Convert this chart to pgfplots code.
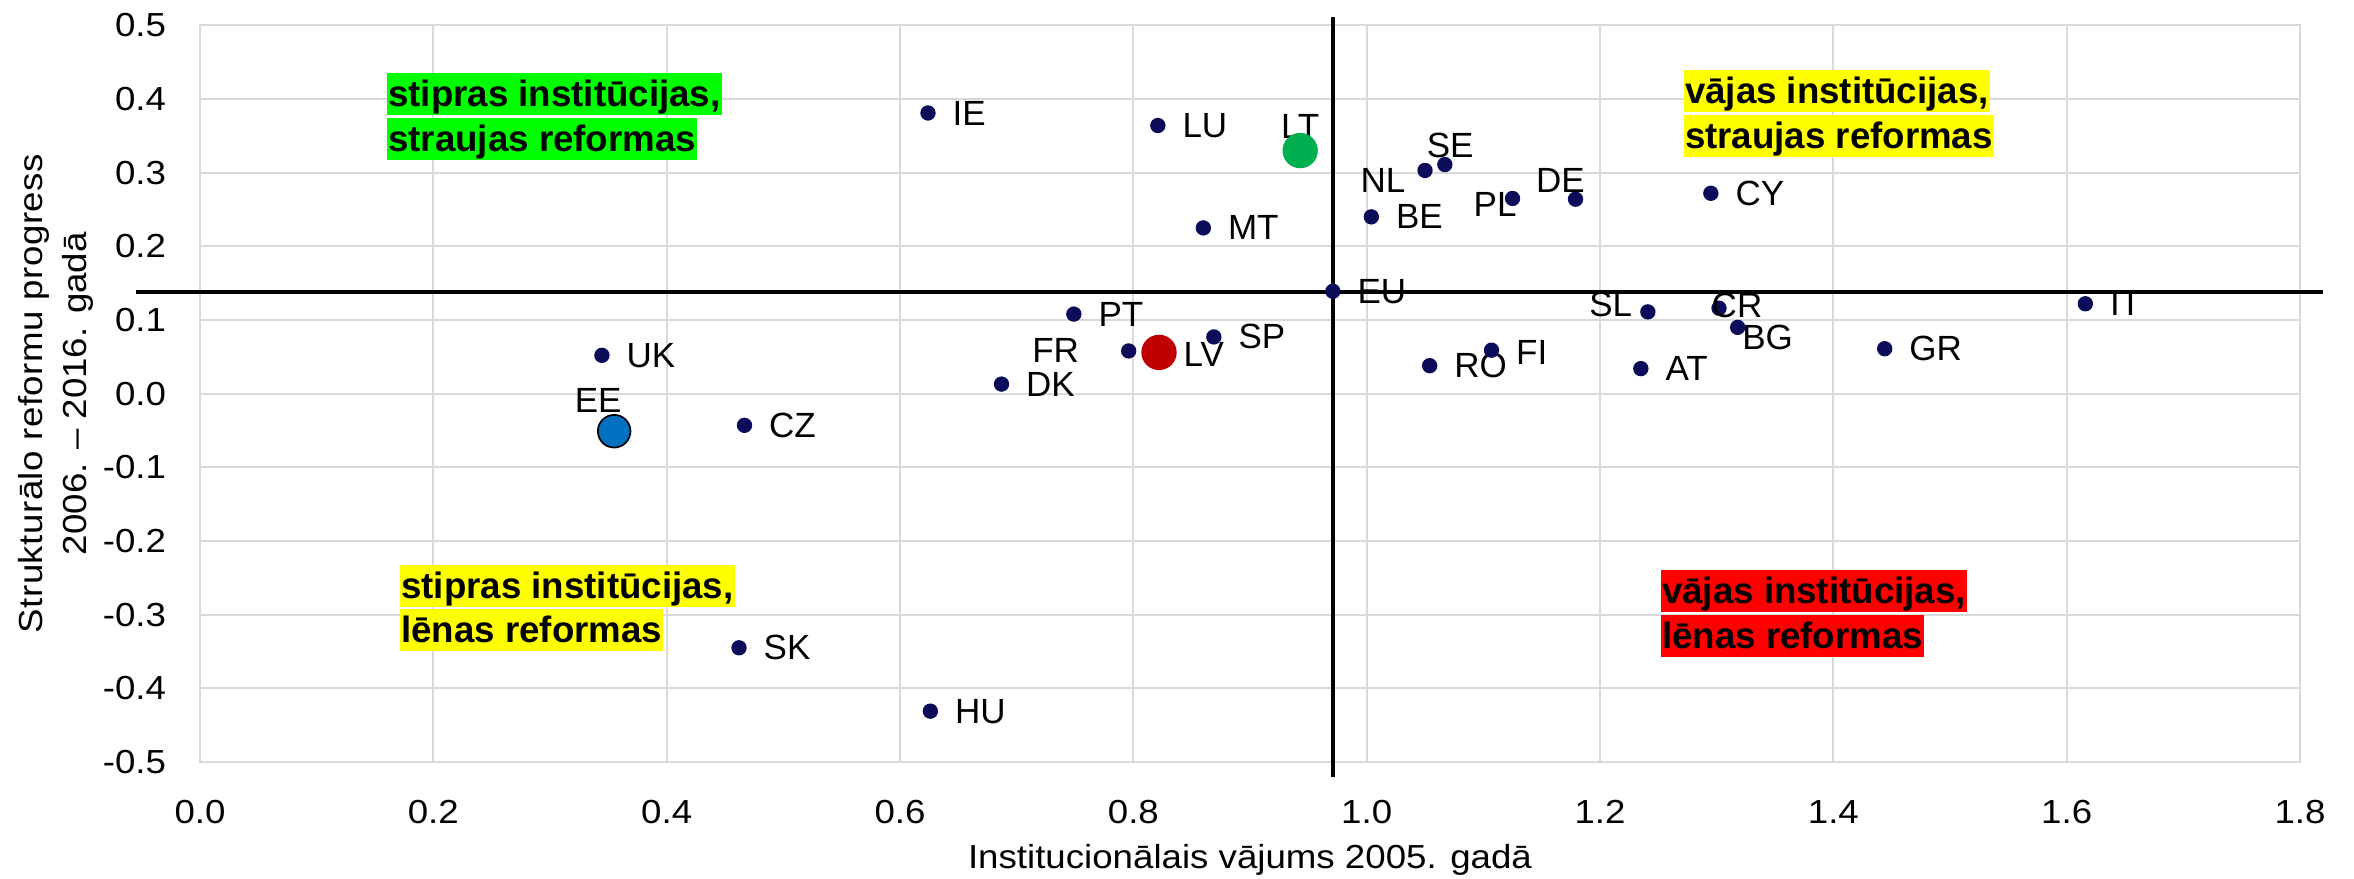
\documentclass[border=0pt]{standalone}
\usepackage{fontspec}
\setmainfont{Liberation Sans}
\newfontfamily\widefont{Liberation Sans}[FakeStretch=1.1]
\usepackage{pgfplots}
\pgfplotsset{compat=1.18}
\definecolor{navy}{RGB}{12,12,90}
\definecolor{gridgray}{RGB}{217,217,217}
\definecolor{ltgreen}{RGB}{0,176,80}
\definecolor{lvred}{RGB}{192,0,0}
\definecolor{eeblue}{RGB}{0,112,192}
\definecolor{boxgreen}{RGB}{0,255,0}
\definecolor{boxyellow}{RGB}{255,255,0}
\definecolor{boxred}{RGB}{255,0,0}

\pgfplotsset{
  dots/.style={only marks, mark=*, mark size=2.1pt, color=navy, forget plot},
  lbl/.style n args={3}{nodes near coords, point meta=explicit symbolic,
     every node near coord/.append style={anchor=#1, xshift=#2, yshift=#3,
       inner sep=0pt, text=black, font=\fontsize{10.5}{12}\selectfont}},
}

\begin{document}
\begin{tikzpicture}
\useasboundingbox (0,0) rectangle (706.2pt,263.7pt);
\begin{axis}[
  at={(60pt,35.1pt)}, anchor=south west,
  scale only axis, width=630pt, height=221pt,
  xmin=0, xmax=1.8, ymin=-0.5, ymax=0.5,
  clip=false,
  xtick={0,0.2,0.4,0.6,0.8,1.0,1.2,1.4,1.6,1.8},
  ytick={-0.5,-0.4,-0.3,-0.2,-0.1,0,0.1,0.2,0.3,0.4,0.5},
  grid=major,
  major grid style={draw=gridgray, line width=0.6pt},
  axis line style={draw=gridgray, line width=0.6pt},
  major tick length=0pt,
  tick style={draw=none},
  /pgf/number format/assume math mode=true,
  /pgf/number format/.cd, fixed, fixed zerofill, precision=1, /pgfplots/.cd,
  ticklabel style={font=\widefont\fontsize{10}{12}\selectfont, text=black},
  xticklabel style={anchor=north, inner sep=0pt, yshift=-11.4pt},
  yticklabel style={anchor=east, inner sep=0pt, xshift=-10pt},
  xlabel={Institucionālais vājums 2005. gadā},
  ylabel={{\addfontfeatures{LetterSpace=1.5}Strukturālo reformu progress}\\2006. – 2016. gadā},
  label style={font=\widefont\fontsize{10}{13.2}\selectfont, text=black},
  xlabel style={at={(axis description cs:0.5,-0.1452)}, anchor=base},
  ylabel style={at={(axis description cs:-0.0684,0.5)}, anchor=center, align=center},
]
% reference lines (EU averages)
\addplot[black, line width=1.2pt, forget plot] coordinates {(-0.055,0.1385) (1.82,0.1385)};
\addplot[black, line width=1pt, forget plot] coordinates {(0.971,0.511) (0.971,-0.520)};

% countries labelled on the right
\addplot[dots, lbl={west}{7.2pt}{0pt}] coordinates {
 (0.624,0.381) [IE]
 (0.821,0.364) [LU]
 (0.860,0.225) [MT]
 (1.004,0.240) [BE]
 (1.295,0.272) [CY]
 (1.616,0.122) [IT]
 (1.444,0.061) [GR]
 (1.235,0.034) [AT]
 (0.869,0.077) [SP]
 (0.749,0.108) [PT]
 (0.687,0.013) [DK]
 (0.3445,0.052) [UK]
 (0.4667,-0.043) [CZ]
 (0.462,-0.345) [SK]
 (0.626,-0.431) [HU]
 (0.971,0.139) [EU]
 (1.054,0.038) [RO]
};
\addplot[dots, lbl={west}{7.2pt}{-0.7pt}] coordinates {(1.107,0.059) [FI] (0.822,0.056) [LV]};
\addplot[dots, lbl={center}{0pt}{7.2pt}] coordinates {(0.943,0.330) [LT]};
\addplot[dots, lbl={center}{1.6pt}{5.7pt}] coordinates {(1.067,0.311) [SE]};
\addplot[dots, lbl={east}{-5.7pt}{-3.0pt}] coordinates {(1.050,0.303) [NL]};
\addplot[dots, lbl={east}{1.4pt}{-1.8pt}] coordinates {(1.125,0.265) [PL]};
\addplot[dots, lbl={center}{-4.5pt}{5.5pt}] coordinates {(1.179,0.264) [DE]};
\addplot[dots, lbl={east}{-4.5pt}{2.1pt}] coordinates {(1.241,0.111) [SL]};
\addplot[dots, lbl={center}{5.4pt}{0.9pt}] coordinates {(1.302,0.116) [CR]};
\addplot[dots, lbl={west}{1.2pt}{-3.0pt}] coordinates {(1.318,0.090) [BG]};
\addplot[dots, lbl={east}{-14.7pt}{0pt}] coordinates {(0.796,0.058) [FR]};
\addplot[dots, lbl={center}{-4.8pt}{9.3pt}] coordinates {(0.355,-0.051) [EE]};

% highlighted countries
\addplot[only marks, mark=*, mark size=5.1pt, color=ltgreen] coordinates {(0.943,0.330)};
\addplot[only marks, mark=*, mark size=5.1pt, color=lvred] coordinates {(0.822,0.056)};
\addplot[only marks, mark=*, mark size=4.9pt, draw=black, fill=eeblue, line width=0.5pt] coordinates {(0.355,-0.051)};

\tikzset{qbox/.style={anchor=base west, inner xsep=0.4pt, inner ysep=0pt,
   text height=10.1pt, text depth=2.5pt, text=black,
   font=\fontsize{11}{13}\selectfont\bfseries}}
\node[qbox, fill=boxgreen] at (axis cs:0.1597,0.3893) {stipras institūcijas,};
\node[qbox, fill=boxgreen] at (axis cs:0.1597,0.3283) {straujas reformas};
\node[qbox, fill=boxyellow] at (axis cs:1.2712,0.3934) {vājas institūcijas,};
\node[qbox, fill=boxyellow] at (axis cs:1.2712,0.3324) {straujas reformas};
\node[qbox, fill=boxyellow] at (axis cs:0.1708,-0.2787) {stipras institūcijas,};
\node[qbox, fill=boxyellow] at (axis cs:0.1708,-0.3383) {lēnas reformas};
\node[qbox, fill=boxred] at (axis cs:1.2515,-0.2855) {vājas institūcijas,};
\node[qbox, fill=boxred] at (axis cs:1.2515,-0.3465) {lēnas reformas};
\end{axis}
\end{tikzpicture}
\end{document}
